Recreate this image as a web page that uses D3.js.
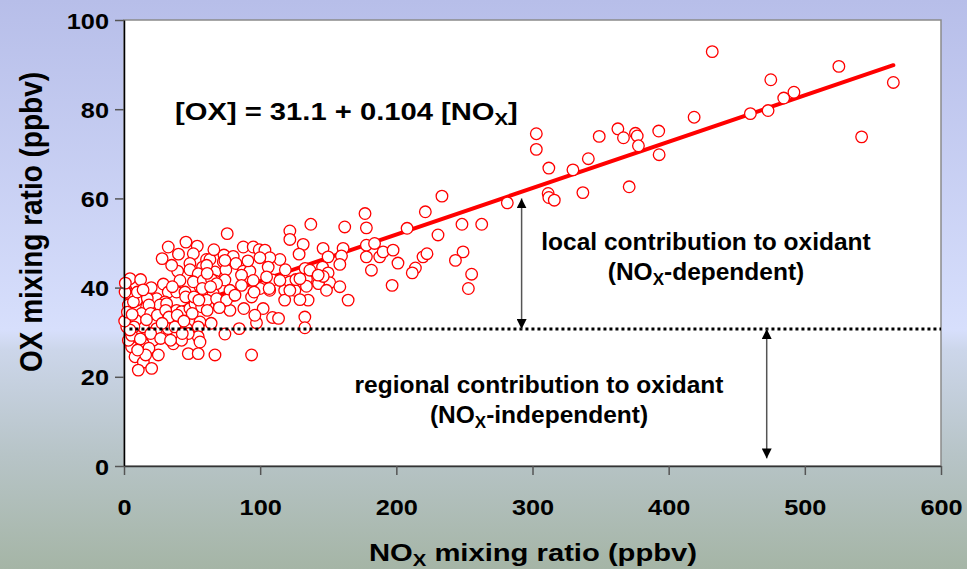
<!DOCTYPE html>
<html>
<head>
<meta charset="utf-8">
<script src="https://cdn.jsdelivr.net/npm/d3@7"></script>
<style>
  body { margin: 0; }
  svg { display: block; font-family: "Liberation Sans", Arial, sans-serif; font-weight: bold; }
</style>
</head>
<body>
<div id="chart"></div>
<script>
// NOx (ppbv) vs OX (ppbv)
const noxValues = [
  432, 525, 565, 541.7, 475, 492, 484.5, 473, 460, 418.7, 392.7, 393, 371, 362.7, 366.8, 375.6, 376.9, 377.8, 349,
  302.8, 302.8, 312, 329.7, 341, 337, 311.5, 312, 316, 281.5, 233.5, 221.3, 207.9, 248.2, 262.7, 230.6, 249, 243.4,
  255.3, 252.9, 219.6, 222.5, 214, 211.7, 196.9, 201.2, 177, 178, 162.1, 137.2, 121.8, 121.8, 131.6, 128.6, 146.2,
  149.9, 145.8, 149.9, 151.1, 160.9, 159.7, 158.5, 133, 134, 142.8, 114.5, 118, 125.5, 118, 135.2, 164.6, 178, 178,
  181.7, 187.8, 190.3, 197.6, 184, 107, 107,
  75.8, 87.6, 94.9, 99.3, 103.5, 60.6, 63.1, 73.4, 72.9, 80.2, 82.2, 107.1, 105.9, 57.7, 66.8, 74.8, 87.6, 92.4, 86.3,
  55.8, 66.8, 74.1, 109.1, 121.8, 126.2, 134, 146.3, 55.8, 65.5, 80.2, 86.3, 99.8, 106.6, 129.2, 93.7, 61.9, 77.8,
  88, 102.2, 109.1, 113.5, 132.8, 132.8, 84.6, 97.3, 74.1, 55.8,
  32.5, 45.5, 53.8, 50.9, 99.8, 39.4, 48.4, 48.4, 60.7, 54.5, 74.1, 4.4, 12.2, 1.5, 3.2, 28.9, 32.5, 24, 30.1, 38.6,
  44.8, 41.1, 50.9, 58.2, 64.3, 68, 77.8, 94.9, 104.7, 114.5, 129.2, 136.5, 142.6, 158.5, 9.3, 0.8, 3.2, 6.9, 16.6,
  13, 21.5, 26.4, 31.3, 38.6, 42.3, 48.4, 52.1, 57, 60.7, 68, 75.3, 81.5, 96.1, 121.8, 148.7, 2, 5.6, 14.2, 24, 32.5,
  37.4, 46, 54.5, 54.5, 47.2, 5.6, 8.1, 14.2, 10.5, 20.3, 25.2, 21.5, 14.2, 36.2, 42.3, 55.8, 47.2, 54.5, 66.8, 93.7,
  3.2, 5.6,
  61.1, 57.5, 63.6, 9.8, 17.1, 18.3, 35.5, 45.3, 51.4, 55, 19.6, 24.5, 30.6, 33, 39.1, 50.1, 61.1, 8.6, 7.3, 4.4,
  19.6, 26.9, 34.2, 42.8, 18.3, 15.9,
  0.5, 2.5, 6, 1, 12, 10, 16.5, 28, 44, 64, 70, 35, 28, 20, 14, 40, 66, 91, 95.5, 118.5
];
const oxValues = [
  92.9, 89.6, 86.0, 73.8, 86.6, 83.8, 82.5, 79.7, 79.0, 78.2, 75.1, 69.8, 62.6, 75.6, 73.6, 74.6, 74.0, 71.8, 73.9,
  74.5, 71.0, 66.8, 66.4, 68.9, 61.3, 61.1, 60.2, 59.6, 59.0, 60.5, 57.0, 53.3, 54.2, 54.2, 51.8, 48.0, 46.1,
  43.0, 39.8, 46.9, 47.6, 44.4, 43.3, 40.5, 45.5, 56.6, 53.4, 53.6, 54.2, 52.7, 50.8, 49.7, 47.5, 48.8,
  46.9, 44.6, 43.3, 41.1, 48.8, 47.1, 45.2, 44.3, 41.9, 40.9, 46.3, 39.4, 39.4, 37.2, 37.2, 37.2, 49.5, 46.9,
  43.9, 46.9, 48.0, 48.4, 49.9, 41.7, 39.4,
  52.1, 49.1, 49.1, 48.5, 48.4, 46.3, 46.3, 47.3, 45.8, 47.0, 45.4, 46.7, 44.6, 44.6, 43.5, 44.0, 43.7, 43.7, 42.8,
  42.4, 41.5, 41.7, 41.7, 41.3, 41.8, 40.3, 42.5, 40.2, 38.7, 38.3, 40.5, 39.8, 39.8, 37.3, 37.9, 35.8, 34.9,
  35.3, 35.3, 33.3, 33.1, 33.4, 31.0, 30.8, 32.1, 29.6, 32.3,
  49.1, 50.2, 49.3, 47.6, 46.7, 43.7, 45.4, 44.0, 45.0, 43.1, 46.1, 42.0, 41.8, 39.5, 38.7, 40.8, 39.0, 37.5, 36.8, 39.0,
  39.0, 41.6, 41.3, 41.6, 41.8, 40.9, 39.4, 41.6, 42.4, 41.6, 42.0, 43.9, 42.8, 40.2, 37.2, 39.0, 36.1, 36.8, 35.7,
  34.2, 34.2, 36.1, 36.4, 34.9, 34.6, 35.3, 36.4, 35.7, 37.2, 37.5, 37.2, 38.3, 33.8, 39.4, 39.4, 31.2, 31.9, 31.2, 30.8, 30.8,
  31.2, 30.8, 31.2, 29.0, 29.7, 26.7, 24.5, 23.3, 21.5, 21.9, 24.9, 28.2, 27.4, 27.4, 28.2, 27.8, 25.2, 25.2, 24.9, 24.9,
  28.2, 29.3,
  43.2, 39.8, 40.2, 39.0, 37.6, 36.1, 40.2, 37.9, 37.9, 37.2, 34.2, 33.8, 34.9, 33.4, 33.8, 34.2, 34.9, 32.7, 31.2, 30.5,
  29.7, 28.6, 28.2, 29.7, 26.4, 24.9,
  32.5, 34.5, 34.0, 41.0, 28.5, 26.0, 32.8, 32.0, 32.5, 32.0, 35.5, 45.0, 46.5, 40.0, 39.5, 47.5, 48.5, 46.0, 39.0, 44.0
];
const xTicks = [0, 100, 200, 300, 400, 500, 600];
const yTicks = [0, 20, 40, 60, 80, 100];

// fit [OX] = a + b [NOx]
const fitIntercept = 31.1;
const fitSlope = 0.104;
const fitRange = [0, 565];
const regionalLevel = 30.7;
const arrowNox = [292, 472];
const arrowTop = [60, 30.7];
const arrowBottom = [30.7, 1.7];

const width = 967, height = 569;
const plot = { left: 124, right: 941, top: 20, bottom: 466 };

const svg = d3.select("#chart").append("svg")
  .attr("width", width)
  .attr("height", height);

const defs = svg.append("defs");
const grad = defs.append("linearGradient")
  .attr("id", "bg").attr("x1", 0).attr("y1", 0).attr("x2", 0).attr("y2", 1);
[[0, "#b7bee9"], [0.58, "#d7dffc"], [0.615, "#ccd6ea"], [0.8, "#b7c4c7"], [1, "#a5b5a6"]]
  .forEach(s => grad.append("stop").attr("offset", s[0]).attr("stop-color", s[1]));

defs.append("marker")
  .attr("id", "head")
  .attr("viewBox", "0 0 10 10")
  .attr("refX", 10).attr("refY", 5)
  .attr("markerWidth", 10).attr("markerHeight", 10)
  .attr("markerUnits", "userSpaceOnUse")
  .attr("orient", "auto-start-reverse")
  .append("path")
  .attr("d", "M0,0 L10,5 L0,10 Z")
  .attr("fill", "#000");

svg.append("rect")
  .attr("width", width).attr("height", height)
  .attr("fill", "url(#bg)");

const x = d3.scaleLinear().domain([0, 600]).range([plot.left, plot.right]);
const y = d3.scaleLinear().domain([0, 100]).range([plot.bottom, plot.top]);

svg.append("rect")
  .attr("x", plot.left).attr("y", plot.top)
  .attr("width", plot.right - plot.left)
  .attr("height", plot.bottom - plot.top)
  .attr("fill", "#fff")
  .attr("stroke", "#8a8a8a")
  .attr("stroke-width", 1.5);

// regression line
svg.append("line")
  .attr("x1", x(fitRange[0])).attr("y1", y(fitIntercept + fitSlope * fitRange[0]))
  .attr("x2", x(fitRange[1])).attr("y2", y(fitIntercept + fitSlope * fitRange[1]))
  .attr("stroke", "#ff0000")
  .attr("stroke-width", 4)
  .attr("stroke-linecap", "round");

const points = noxValues.map((v, i) => ({ nox: v, ox: oxValues[i] }));

svg.append("g")
  .selectAll("circle")
  .data(points)
  .join("circle")
  .attr("cx", d => x(d.nox))
  .attr("cy", d => y(d.ox))
  .attr("r", 5.8)
  .attr("fill", "#fff")
  .attr("stroke", "#ff0000")
  .attr("stroke-width", 1.3);

// regional background level
svg.append("line")
  .attr("x1", x(4)).attr("x2", plot.right)
  .attr("y1", y(regionalLevel)).attr("y2", y(regionalLevel))
  .attr("stroke", "#000")
  .attr("stroke-width", 3)
  .attr("stroke-dasharray", "3,3");

arrowNox.forEach((n, i) => {
  svg.append("line")
    .attr("x1", x(n)).attr("x2", x(n))
    .attr("y1", y(arrowTop[i])).attr("y2", y(arrowBottom[i]))
    .attr("stroke", "#555")
    .attr("stroke-width", 1.5)
    .attr("marker-start", "url(#head)")
    .attr("marker-end", "url(#head)");
});

// axes
const yAxisGroup = svg.append("g")
  .attr("transform", `translate(${plot.left},0)`)
  .call(d3.axisLeft(y).tickValues(yTicks).tickSize(9).tickSizeOuter(0));
yAxisGroup.select(".domain").attr("stroke", "#000").attr("stroke-width", 1.5);
yAxisGroup.selectAll(".tick line").attr("stroke", "#555").attr("stroke-width", 1.5);
yAxisGroup.selectAll(".tick text")
  .attr("x", null).attr("dy", null)
  .attr("transform", "translate(-15,8) scale(1.15,1)")
  .style("font-size", "22px")
  .style("font-family", "'Liberation Sans', Arial, sans-serif")
  .style("font-weight", "bold")
  .attr("fill", "#000");

const xAxisGroup = svg.append("g")
  .attr("transform", `translate(0,${plot.bottom})`)
  .call(d3.axisBottom(x).tickValues(xTicks).tickSize(9).tickSizeOuter(0));
xAxisGroup.select(".domain").attr("stroke", "#333").attr("stroke-width", 1.5);
xAxisGroup.selectAll(".tick line").attr("stroke", "#555").attr("stroke-width", 1.5);
xAxisGroup.selectAll(".tick text")
  .attr("y", null).attr("dy", null)
  .attr("transform", "translate(0,49) scale(1.15,1)")
  .style("font-size", "22px")
  .style("font-family", "'Liberation Sans', Arial, sans-serif")
  .style("font-weight", "bold")
  .attr("fill", "#000");

// axis titles
svg.append("text")
  .attr("transform", "translate(42,222) scale(1.15,1) rotate(-90)")
  .attr("text-anchor", "middle")
  .style("font-size", "28px")
  .text("OX mixing ratio (ppbv)");

const xTitle = svg.append("text")
  .attr("transform", "translate(533,561) scale(1.27,1)")
  .attr("text-anchor", "middle")
  .style("font-size", "23px");
xTitle.append("tspan").text("NO");
xTitle.append("tspan").attr("dy", 5).style("font-size", "16px").text("X");
xTitle.append("tspan").attr("dy", -5).text(" mixing ratio (ppbv)");

// fit equation
const eq = svg.append("text")
  .attr("transform", "translate(175,120) scale(1.27,1)")
  .style("font-size", "23px");
eq.append("tspan").text(`[OX] = ${fitIntercept} + ${fitSlope} [NO`);
eq.append("tspan").attr("dy", 5).style("font-size", "16px").text("X");
eq.append("tspan").attr("dy", -5).text("]");

// annotations
function note(cx, baseline, line1, prefix, suffix) {
  svg.append("text")
    .attr("x", cx).attr("y", baseline)
    .attr("text-anchor", "middle")
    .style("font-size", "24.5px")
    .text(line1);
  const t = svg.append("text")
    .attr("x", cx).attr("y", baseline + 30)
    .attr("text-anchor", "middle")
    .style("font-size", "24.5px");
  t.append("tspan").text(prefix);
  t.append("tspan").attr("dy", 5).style("font-size", "17px").text("X");
  t.append("tspan").attr("dy", -5).text(suffix);
}
note(706, 250, "local contribution to oxidant", "(NO", "-dependent)");
note(539, 393, "regional contribution to oxidant", "(NO", "-independent)");
</script>
</body>
</html>
